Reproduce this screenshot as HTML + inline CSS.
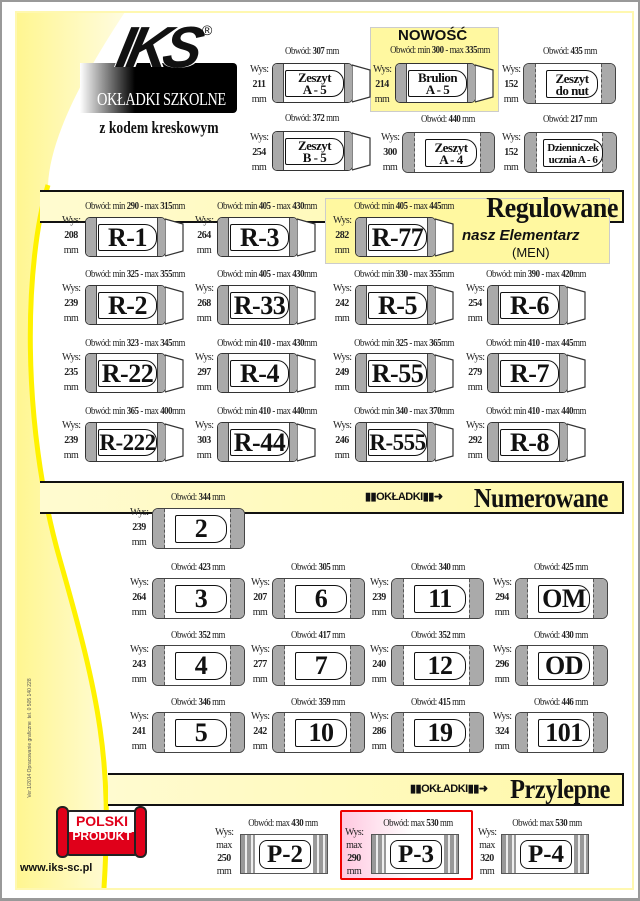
<!DOCTYPE html>
<html><head><meta charset="utf-8"><style>
*{margin:0;padding:0;box-sizing:border-box}
body{width:640px;height:901px;position:relative;overflow:hidden;background:#fff;font-family:"Liberation Serif",serif;color:#111}
.a{position:absolute;white-space:nowrap}
.ob{position:absolute;font-size:10px;letter-spacing:-.5px;text-align:center;white-space:nowrap;color:#222;transform:scaleX(.88)}
.ob b{font-weight:bold}
.w{position:absolute;font-size:10px;line-height:15px;text-align:center;width:18px;letter-spacing:-.5px;color:#222}
.w b{font-weight:bold;display:block}
.rc{position:absolute;width:99px;height:40px}
.rc .b{position:absolute;left:0;top:0;width:81px;height:40px;border:1.5px solid #333;border-radius:5px;background:#fff;overflow:hidden}
.rc .b .l{position:absolute;left:0;top:0;width:11px;height:100%;background:#aaa;border-right:1px solid #444}
.rc .b .r{position:absolute;right:0;top:0;width:8px;height:100%;background:#aaa;border-left:1px solid #444}
.rc .lb{position:absolute;left:12px;top:6px;width:59px;height:27px;border:1.5px solid #111;border-radius:2px 12px 12px 2px;font:bold 26px/25px "Liberation Serif",serif;text-align:center;letter-spacing:-.5px}
.rc svg{position:absolute;left:80px;top:0}
.nc{position:absolute;width:93px;height:41px;border:1.5px solid #444;border-radius:6px;background:#fff;overflow:hidden}
.nc .l{position:absolute;left:0;top:0;width:12px;height:100%;background:#aaa;border-right:1px dashed #555}
.nc .r{position:absolute;right:0;top:0;width:14px;height:100%;background:#aaa;border-left:1px dashed #555}
.nc .lb{position:absolute;left:22px;top:6px;width:52px;height:28px;border:1.5px solid #111;border-radius:2px 12px 12px 2px;font:bold 26px/26px "Liberation Serif",serif;text-align:center;letter-spacing:-.5px}
.sm{font-size:13px!important;line-height:12px!important;padding-top:1px}
.pc{position:absolute;width:88px;height:40px;border:1px solid #555;background:#fff}
.pc .l,.pc .r{position:absolute;top:0;width:14px;height:100%;background:repeating-linear-gradient(90deg,#999 0 4px,#eee 4px 6px)}
.pc .l{left:0}.pc .r{right:0}
.pc .lb{position:absolute;left:18px;top:5px;width:52px;height:29px;border:1.5px solid #111;border-radius:8px;font:bold 25px/27px "Liberation Serif",serif;text-align:center}
.band{position:absolute;left:40px;width:584px;height:33px;border:2px solid #111;border-left:none;background:linear-gradient(90deg,#fffbd0,#fff8a8)}
.tt{position:absolute;font:bold 29px/30px "Liberation Serif",serif;letter-spacing:-.5px;transform:scaleX(.9);transform-origin:right}
.ok{position:absolute;font:bold 11px/12px "Liberation Sans",sans-serif;letter-spacing:-.5px}
</style></head><body>
<div class="a" style="left:0;top:0;width:640px;height:901px;border:2px solid #999;border-bottom-width:3px"></div>
<svg class="a" style="left:0;top:0" width="640" height="901">
<defs><linearGradient id="g" x1="0" y1="0" x2="1" y2="0"><stop offset="0" stop-color="#fff690"/><stop offset="1" stop-color="#fffce0"/></linearGradient></defs>
<path d="M16 12 L125 12 C 80 80, 50 140, 48 185 C 25 260, 20 420, 60 560 S 112 760, 104 888 L16 888 Z" fill="url(#g)"/>
<path d="M48 185 C 25 260, 20 420, 60 560 S 112 760, 104 888" fill="none" stroke="#fff200" stroke-width="5"/>
<rect x="16" y="12" width="617" height="877" fill="none" stroke="#fff8b0" stroke-width="2"/>
</svg>
<!-- logo -->
<div class="a" style="left:80px;top:63px;width:157px;height:50px;border-radius:0 4px 4px 0;background:linear-gradient(90deg,#fff 0,#000 35%)"></div>
<div class="a" style="left:118px;top:16px;font:italic 900 58px/64px 'Liberation Sans',sans-serif;letter-spacing:-6px;color:#111;text-shadow:2px 0 #fff,-1px 0 #fff;transform:skewX(-12deg)">IKS</div>
<div class="a" style="left:202px;top:22px;font:14px 'Liberation Sans',sans-serif">®</div>
<div class="a" style="left:82px;top:89px;width:150px;text-align:center;color:#fff;font:18px/20px 'Liberation Serif',serif;transform:scaleX(.8);transform-origin:center;letter-spacing:-.5px">OKŁADKI SZKOLNE</div>
<div class="a" style="left:80px;top:118px;width:158px;text-align:center;font:bold 17px/20px 'Liberation Serif',serif;transform:scaleX(.8)">z kodem kreskowym</div>
<!-- top section -->
<div class="a" style="left:370px;top:27px;width:129px;height:85px;background:#fff8a0;border:1px solid #ccc"></div>
<div class="a" style="left:398px;top:28px;font:bold 15px/16px 'Liberation Sans',sans-serif">NOWOŚĆ</div>
<div class="ob" style="left:262px;top:46px;width:100px">Obwód: <b>307</b> mm</div>
<div class="w" style="left:250px;top:62px">Wys:<b>211</b>mm</div>
<div class="rc" style="left:272px;top:63px"><div class="b"><i class="l"></i><i class="r"></i><div class="lb sm">Zeszyt<br>A - 5</div></div><svg width="19" height="40"><polygon points="0,2 18,7 18,34 0,39" fill="#fff" stroke="#333" stroke-width="1.2"/></svg></div>
<div class="ob" style="left:380px;top:45px;width:120px">Obwód: min <b>300</b> - max <b>335</b>mm</div>
<div class="w" style="left:373px;top:62px">Wys:<b>214</b>mm</div>
<div class="rc" style="left:395px;top:63px"><div class="b"><i class="l"></i><i class="r"></i><div class="lb sm">Brulion<br>A - 5</div></div><svg width="19" height="40"><polygon points="0,2 18,7 18,34 0,39" fill="#fff" stroke="#333" stroke-width="1.2"/></svg></div>
<div class="ob" style="left:520px;top:46px;width:100px">Obwód: <b>435</b> mm</div>
<div class="w" style="left:502px;top:62px">Wys:<b>152</b>mm</div>
<div class="nc" style="left:523px;top:63px"><i class="l"></i><i class="r"></i><div class="lb sm" style="padding-top:2px">Zeszyt<br>do nut</div></div>
<div class="ob" style="left:262px;top:113px;width:100px">Obwód: <b>372</b> mm</div>
<div class="w" style="left:250px;top:130px">Wys:<b>254</b>mm</div>
<div class="rc" style="left:272px;top:131px"><div class="b"><i class="l"></i><i class="r"></i><div class="lb sm">Zeszyt<br>B - 5</div></div><svg width="19" height="40"><polygon points="0,2 18,7 18,34 0,39" fill="#fff" stroke="#333" stroke-width="1.2"/></svg></div>
<div class="ob" style="left:398px;top:114px;width:100px">Obwód: <b>440</b> mm</div>
<div class="w" style="left:381px;top:130px">Wys:<b>300</b>mm</div>
<div class="nc" style="left:402px;top:132px"><i class="l"></i><i class="r"></i><div class="lb sm" style="padding-top:2px">Zeszyt<br>A - 4</div></div>
<div class="ob" style="left:520px;top:114px;width:100px">Obwód: <b>217</b> mm</div>
<div class="w" style="left:502px;top:130px">Wys:<b>152</b>mm</div>
<div class="nc" style="left:524px;top:132px"><i class="l"></i><i class="r"></i><div class="lb" style="font-size:11px;line-height:12px;padding-top:2px;left:18px;width:60px">Dzienniczek<br>ucznia A - 6</div></div>
<!-- Regulowane -->
<div class="band" style="top:190px"></div>
<div class="a" style="left:325px;top:198px;width:285px;height:66px;background:#fff8a0;border:1px solid #ccc"></div>
<div class="tt" style="left:440px;top:193px;width:178px;text-align:right">Regulowane</div>
<div class="a" style="left:462px;top:228px;font:italic 900 15px/16px 'Liberation Sans',sans-serif">nasz Elementarz</div>
<div class="a" style="left:512px;top:246px;font:13px/14px 'Liberation Sans',sans-serif">(MEN)</div>

<div class="ob" style="left:75px;top:201px;width:120px">Obwód: min <b>290</b> - max <b>315</b>mm</div>
<div class="w" style="left:62px;top:213px">Wys:<b>208</b>mm</div>
<div class="rc" style="left:85px;top:217px"><div class="b"><i class="l"></i><i class="r"></i><div class="lb">R-1</div></div><svg width="19" height="40"><polygon points="0,2 18,7 18,34 0,39" fill="#fff" stroke="#333" stroke-width="1.2"/></svg></div>
<div class="ob" style="left:207px;top:201px;width:120px">Obwód: min <b>405</b> - max <b>430</b>mm</div>
<div class="w" style="left:195px;top:213px">Wys:<b>264</b>mm</div>
<div class="rc" style="left:217px;top:217px"><div class="b"><i class="l"></i><i class="r"></i><div class="lb">R-3</div></div><svg width="19" height="40"><polygon points="0,2 18,7 18,34 0,39" fill="#fff" stroke="#333" stroke-width="1.2"/></svg></div>
<div class="ob" style="left:344px;top:201px;width:120px">Obwód: min <b>405</b> - max <b>445</b>mm</div>
<div class="w" style="left:333px;top:213px">Wys:<b>282</b>mm</div>
<div class="rc" style="left:355px;top:217px"><div class="b"><i class="l"></i><i class="r"></i><div class="lb">R-77</div></div><svg width="19" height="40"><polygon points="0,2 18,7 18,34 0,39" fill="#fff" stroke="#333" stroke-width="1.2"/></svg></div>

<div class="ob" style="left:75px;top:269px;width:120px">Obwód: min <b>325</b> - max <b>355</b>mm</div>
<div class="w" style="left:62px;top:281px">Wys:<b>239</b>mm</div>
<div class="rc" style="left:85px;top:285px"><div class="b"><i class="l"></i><i class="r"></i><div class="lb">R-2</div></div><svg width="19" height="40"><polygon points="0,2 18,7 18,34 0,39" fill="#fff" stroke="#333" stroke-width="1.2"/></svg></div>
<div class="ob" style="left:207px;top:269px;width:120px">Obwód: min <b>405</b> - max <b>430</b>mm</div>
<div class="w" style="left:195px;top:281px">Wys:<b>268</b>mm</div>
<div class="rc" style="left:217px;top:285px"><div class="b"><i class="l"></i><i class="r"></i><div class="lb">R-33</div></div><svg width="19" height="40"><polygon points="0,2 18,7 18,34 0,39" fill="#fff" stroke="#333" stroke-width="1.2"/></svg></div>
<div class="ob" style="left:344px;top:269px;width:120px">Obwód: min <b>330</b> - max <b>355</b>mm</div>
<div class="w" style="left:333px;top:281px">Wys:<b>242</b>mm</div>
<div class="rc" style="left:355px;top:285px"><div class="b"><i class="l"></i><i class="r"></i><div class="lb">R-5</div></div><svg width="19" height="40"><polygon points="0,2 18,7 18,34 0,39" fill="#fff" stroke="#333" stroke-width="1.2"/></svg></div>
<div class="ob" style="left:476px;top:269px;width:120px">Obwód: min <b>390</b> - max <b>420</b>mm</div>
<div class="w" style="left:466px;top:281px">Wys:<b>254</b>mm</div>
<div class="rc" style="left:487px;top:285px"><div class="b"><i class="l"></i><i class="r"></i><div class="lb">R-6</div></div><svg width="19" height="40"><polygon points="0,2 18,7 18,34 0,39" fill="#fff" stroke="#333" stroke-width="1.2"/></svg></div>

<div class="ob" style="left:75px;top:338px;width:120px">Obwód: min <b>323</b> - max <b>345</b>mm</div>
<div class="w" style="left:62px;top:350px">Wys:<b>235</b>mm</div>
<div class="rc" style="left:85px;top:353px"><div class="b"><i class="l"></i><i class="r"></i><div class="lb">R-22</div></div><svg width="19" height="40"><polygon points="0,2 18,7 18,34 0,39" fill="#fff" stroke="#333" stroke-width="1.2"/></svg></div>
<div class="ob" style="left:207px;top:338px;width:120px">Obwód: min <b>410</b> - max <b>430</b>mm</div>
<div class="w" style="left:195px;top:350px">Wys:<b>297</b>mm</div>
<div class="rc" style="left:217px;top:353px"><div class="b"><i class="l"></i><i class="r"></i><div class="lb">R-4</div></div><svg width="19" height="40"><polygon points="0,2 18,7 18,34 0,39" fill="#fff" stroke="#333" stroke-width="1.2"/></svg></div>
<div class="ob" style="left:344px;top:338px;width:120px">Obwód: min <b>325</b> - max <b>365</b>mm</div>
<div class="w" style="left:333px;top:350px">Wys:<b>249</b>mm</div>
<div class="rc" style="left:355px;top:353px"><div class="b"><i class="l"></i><i class="r"></i><div class="lb">R-55</div></div><svg width="19" height="40"><polygon points="0,2 18,7 18,34 0,39" fill="#fff" stroke="#333" stroke-width="1.2"/></svg></div>
<div class="ob" style="left:476px;top:338px;width:120px">Obwód: min <b>410</b> - max <b>445</b>mm</div>
<div class="w" style="left:466px;top:350px">Wys:<b>279</b>mm</div>
<div class="rc" style="left:487px;top:353px"><div class="b"><i class="l"></i><i class="r"></i><div class="lb">R-7</div></div><svg width="19" height="40"><polygon points="0,2 18,7 18,34 0,39" fill="#fff" stroke="#333" stroke-width="1.2"/></svg></div>

<div class="ob" style="left:75px;top:406px;width:120px">Obwód: min <b>365</b> - max <b>400</b>mm</div>
<div class="w" style="left:62px;top:418px">Wys:<b>239</b>mm</div>
<div class="rc" style="left:85px;top:422px"><div class="b"><i class="l"></i><i class="r"></i><div class="lb" style="font-size:23px">R-222</div></div><svg width="19" height="40"><polygon points="0,2 18,7 18,34 0,39" fill="#fff" stroke="#333" stroke-width="1.2"/></svg></div>
<div class="ob" style="left:207px;top:406px;width:120px">Obwód: min <b>410</b> - max <b>440</b>mm</div>
<div class="w" style="left:195px;top:418px">Wys:<b>303</b>mm</div>
<div class="rc" style="left:217px;top:422px"><div class="b"><i class="l"></i><i class="r"></i><div class="lb">R-44</div></div><svg width="19" height="40"><polygon points="0,2 18,7 18,34 0,39" fill="#fff" stroke="#333" stroke-width="1.2"/></svg></div>
<div class="ob" style="left:344px;top:406px;width:120px">Obwód: min <b>340</b> - max <b>370</b>mm</div>
<div class="w" style="left:333px;top:418px">Wys:<b>246</b>mm</div>
<div class="rc" style="left:355px;top:422px"><div class="b"><i class="l"></i><i class="r"></i><div class="lb" style="font-size:23px">R-555</div></div><svg width="19" height="40"><polygon points="0,2 18,7 18,34 0,39" fill="#fff" stroke="#333" stroke-width="1.2"/></svg></div>
<div class="ob" style="left:476px;top:406px;width:120px">Obwód: min <b>410</b> - max <b>440</b>mm</div>
<div class="w" style="left:466px;top:418px">Wys:<b>292</b>mm</div>
<div class="rc" style="left:487px;top:422px"><div class="b"><i class="l"></i><i class="r"></i><div class="lb">R-8</div></div><svg width="19" height="40"><polygon points="0,2 18,7 18,34 0,39" fill="#fff" stroke="#333" stroke-width="1.2"/></svg></div>

<!-- Numerowane -->
<div class="band" style="top:481px"></div>
<div class="ok" style="left:365px;top:491px">▮▮OKŁADKI▮▮➜</div>
<div class="tt" style="left:440px;top:483px;width:168px;text-align:right;font-size:27px">Numerowane</div>

<div class="ob" style="left:148px;top:492px;width:100px">Obwód: <b>344</b> mm</div>
<div class="w" style="left:130px;top:505px">Wys:<b>239</b>mm</div>
<div class="nc" style="left:152px;top:508px"><i class="l"></i><i class="r"></i><div class="lb">2</div></div>

<div class="ob" style="left:148px;top:562px;width:100px">Obwód: <b>423</b> mm</div>
<div class="w" style="left:130px;top:575px">Wys:<b>264</b>mm</div>
<div class="nc" style="left:152px;top:578px"><i class="l"></i><i class="r"></i><div class="lb">3</div></div>
<div class="ob" style="left:268px;top:562px;width:100px">Obwód: <b>305</b> mm</div>
<div class="w" style="left:251px;top:575px">Wys:<b>207</b>mm</div>
<div class="nc" style="left:272px;top:578px"><i class="l"></i><i class="r"></i><div class="lb">6</div></div>
<div class="ob" style="left:388px;top:562px;width:100px">Obwód: <b>340</b> mm</div>
<div class="w" style="left:370px;top:575px">Wys:<b>239</b>mm</div>
<div class="nc" style="left:391px;top:578px"><i class="l"></i><i class="r"></i><div class="lb">11</div></div>
<div class="ob" style="left:511px;top:562px;width:100px">Obwód: <b>425</b> mm</div>
<div class="w" style="left:493px;top:575px">Wys:<b>294</b>mm</div>
<div class="nc" style="left:515px;top:578px"><i class="l"></i><i class="r"></i><div class="lb">OM</div></div>

<div class="ob" style="left:148px;top:630px;width:100px">Obwód: <b>352</b> mm</div>
<div class="w" style="left:130px;top:642px">Wys:<b>243</b>mm</div>
<div class="nc" style="left:152px;top:645px"><i class="l"></i><i class="r"></i><div class="lb">4</div></div>
<div class="ob" style="left:268px;top:630px;width:100px">Obwód: <b>417</b> mm</div>
<div class="w" style="left:251px;top:642px">Wys:<b>277</b>mm</div>
<div class="nc" style="left:272px;top:645px"><i class="l"></i><i class="r"></i><div class="lb">7</div></div>
<div class="ob" style="left:388px;top:630px;width:100px">Obwód: <b>352</b> mm</div>
<div class="w" style="left:370px;top:642px">Wys:<b>240</b>mm</div>
<div class="nc" style="left:391px;top:645px"><i class="l"></i><i class="r"></i><div class="lb">12</div></div>
<div class="ob" style="left:511px;top:630px;width:100px">Obwód: <b>430</b> mm</div>
<div class="w" style="left:493px;top:642px">Wys:<b>296</b>mm</div>
<div class="nc" style="left:515px;top:645px"><i class="l"></i><i class="r"></i><div class="lb">OD</div></div>

<div class="ob" style="left:148px;top:697px;width:100px">Obwód: <b>346</b> mm</div>
<div class="w" style="left:130px;top:709px">Wys:<b>241</b>mm</div>
<div class="nc" style="left:152px;top:712px"><i class="l"></i><i class="r"></i><div class="lb">5</div></div>
<div class="ob" style="left:268px;top:697px;width:100px">Obwód: <b>359</b> mm</div>
<div class="w" style="left:251px;top:709px">Wys:<b>242</b>mm</div>
<div class="nc" style="left:272px;top:712px"><i class="l"></i><i class="r"></i><div class="lb">10</div></div>
<div class="ob" style="left:388px;top:697px;width:100px">Obwód: <b>415</b> mm</div>
<div class="w" style="left:370px;top:709px">Wys:<b>286</b>mm</div>
<div class="nc" style="left:391px;top:712px"><i class="l"></i><i class="r"></i><div class="lb">19</div></div>
<div class="ob" style="left:511px;top:697px;width:100px">Obwód: <b>446</b> mm</div>
<div class="w" style="left:493px;top:709px">Wys:<b>324</b>mm</div>
<div class="nc" style="left:515px;top:712px"><i class="l"></i><i class="r"></i><div class="lb">101</div></div>

<!-- Przylepne -->
<div class="band" style="top:773px;left:108px;width:516px"></div>
<div class="ok" style="left:410px;top:783px">▮▮OKŁADKI▮▮➜</div>
<div class="tt" style="left:490px;top:774px;width:120px;text-align:right;font-size:27px">Przylepne</div>
<div class="a" style="left:340px;top:810px;width:133px;height:70px;border:2px solid #e00;border-radius:2px;background:linear-gradient(90deg,#ffc8e0,#fff 55%)"></div>
<div class="ob" style="left:233px;top:818px;width:100px">Obwód: max <b>430</b> mm</div>
<div class="w" style="left:215px;top:826px;line-height:13px">Wys:<br>max<b>250</b>mm</div>
<div class="pc" style="left:240px;top:834px"><i class="l"></i><i class="r"></i><div class="lb">P-2</div></div>
<div class="ob" style="left:368px;top:818px;width:100px">Obwód: max <b>530</b> mm</div>
<div class="w" style="left:345px;top:826px;line-height:13px">Wys:<br>max<b>290</b>mm</div>
<div class="pc" style="left:371px;top:834px"><i class="l"></i><i class="r"></i><div class="lb">P-3</div></div>
<div class="ob" style="left:497px;top:818px;width:100px">Obwód: max <b>530</b> mm</div>
<div class="w" style="left:478px;top:826px;line-height:13px">Wys:<br>max<b>320</b>mm</div>
<div class="pc" style="left:501px;top:834px"><i class="l"></i><i class="r"></i><div class="lb">P-4</div></div>

<!-- polski produkt -->
<div class="a" style="left:64px;top:810px;width:76px;height:46px;background:linear-gradient(#fff 0 48%,#e0001a 48%);border:2px solid #222;border-radius:6px"></div>
<div class="a" style="left:56px;top:806px;width:13px;height:52px;background:#e0001a;border:2px solid #222;border-radius:6px"></div>
<div class="a" style="left:134px;top:806px;width:13px;height:52px;background:#e0001a;border:2px solid #222;border-radius:6px"></div>
<div class="a" style="left:70px;top:814px;width:64px;text-align:center;font:bold 14px/14px 'Liberation Sans',sans-serif;color:#e0001a">POLSKI</div>
<div class="a" style="left:68px;top:830px;width:68px;text-align:center;font:bold 12px/13px 'Liberation Sans',sans-serif;color:#fff">PRODUKT</div>
<div class="a" style="left:20px;top:862px;font:bold 11px/13px 'Liberation Sans',sans-serif">www.iks-sc.pl</div>
<div class="a" style="left:-50px;top:735px;width:160px;text-align:center;font:5px 'Liberation Sans',sans-serif;color:#555;transform:rotate(-90deg)">Ver.1/2014 Opracowanie graficzne &nbsp;tel. 0 505 140 228</div>
</body></html>
